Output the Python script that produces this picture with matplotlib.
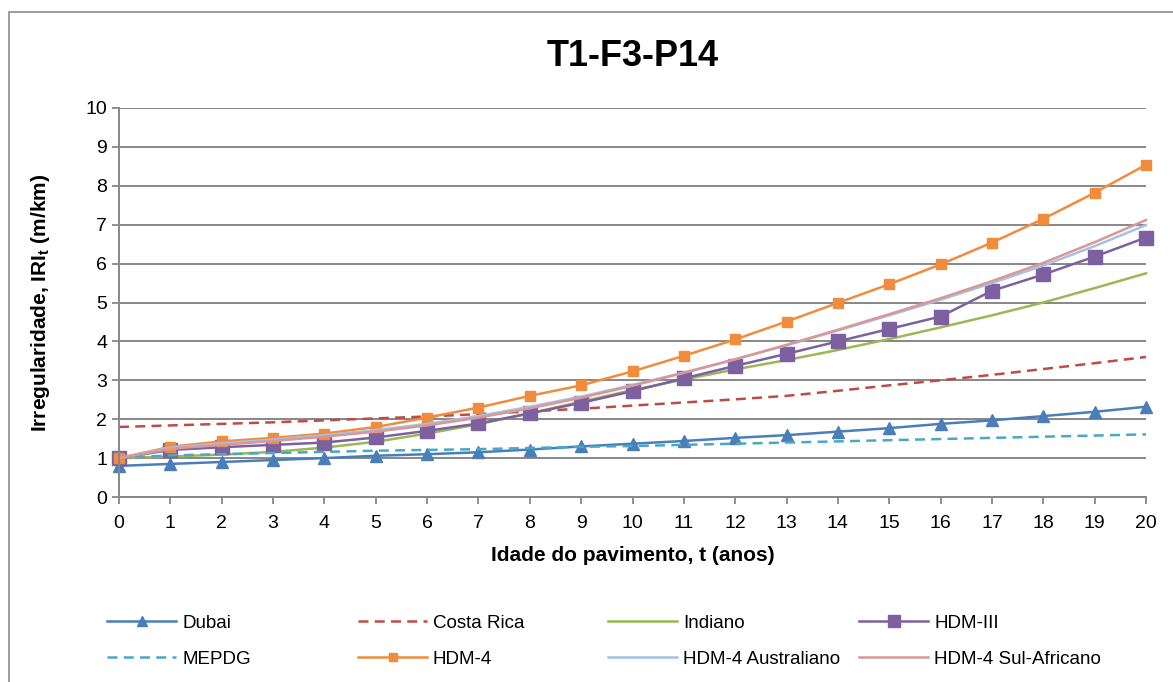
import matplotlib
matplotlib.use("Agg")
import matplotlib.pyplot as plt
from matplotlib.patches import Rectangle

plt.rcParams["font.family"] = ["Liberation Sans", "DejaVu Sans"]
plt.rcParams["mathtext.fontset"] = "custom"
plt.rcParams["mathtext.rm"] = "Liberation Sans"
plt.rcParams["mathtext.bf"] = "Liberation Sans:bold"

anos = list(range(21))

dubai = [0.80, 0.85, 0.90, 0.95, 1.00, 1.06, 1.10, 1.15, 1.22, 1.30, 1.37,
         1.44, 1.52, 1.59, 1.68, 1.77, 1.88, 1.97, 2.08, 2.19, 2.32]
costa_rica = [1.80, 1.84, 1.88, 1.92, 1.97, 2.02, 2.07, 2.13, 2.20, 2.27, 2.35,
              2.43, 2.51, 2.60, 2.73, 2.87, 3.00, 3.14, 3.29, 3.44, 3.60]
indiano = [1.00, 1.04, 1.09, 1.16, 1.27, 1.42, 1.63, 1.87, 2.15, 2.45, 2.75,
           3.02, 3.28, 3.52, 3.78, 4.06, 4.36, 4.67, 5.00, 5.37, 5.75]
hdm3 = [1.00, 1.21, 1.28, 1.34, 1.40, 1.53, 1.70, 1.89, 2.15, 2.42, 2.72,
        3.05, 3.37, 3.68, 4.00, 4.32, 4.64, 5.30, 5.72, 6.18, 6.67]
mepdg = [1.00, 1.07, 1.10, 1.13, 1.16, 1.19, 1.21, 1.23, 1.26, 1.29, 1.31,
         1.34, 1.37, 1.40, 1.43, 1.46, 1.49, 1.52, 1.55, 1.58, 1.61]
hdm4 = [1.00, 1.29, 1.43, 1.52, 1.63, 1.80, 2.04, 2.30, 2.60, 2.87, 3.23,
        3.63, 4.05, 4.51, 4.99, 5.47, 5.98, 6.54, 7.15, 7.82, 8.54]
hdm4_aus = [1.00, 1.27, 1.38, 1.48, 1.59, 1.72, 1.88, 2.08, 2.32, 2.58, 2.88,
            3.20, 3.54, 3.90, 4.28, 4.67, 5.07, 5.50, 5.95, 6.45, 6.99]
hdm4_sa = [1.00, 1.24, 1.34, 1.44, 1.55, 1.68, 1.84, 2.04, 2.28, 2.55, 2.86,
           3.19, 3.54, 3.91, 4.30, 4.70, 5.11, 5.55, 6.02, 6.55, 7.12]

tracejado = (0, (4, 2.5))
series = [
    ("Dubai", dubai, dict(color="#4A7EBB", marker="^", markersize=8)),
    ("Costa Rica", costa_rica, dict(color="#BE4B48", linestyle=tracejado)),
    ("Indiano", indiano, dict(color="#98B954")),
    ("HDM-III", hdm3, dict(color="#7D60A0", marker="s", markersize=10)),
    ("MEPDG", mepdg, dict(color="#46AAC5", linestyle=tracejado)),
    ("HDM-4", hdm4, dict(color="#F08C3C", marker="s", markersize=7)),
    ("HDM-4 Australiano", hdm4_aus, dict(color="#A7C0E6")),
    ("HDM-4 Sul-Africano", hdm4_sa, dict(color="#D99795")),
]

fig = plt.figure(figsize=(11.73, 6.82), dpi=100)
fig.patches.append(Rectangle((9 / 1173, -0.1), 1.2, 1 - 12 / 682 + 0.1,
                             transform=fig.transFigure, fill=False,
                             edgecolor="#8C8C8C", linewidth=1.2))

ax = fig.add_axes([119 / 1173, 1 - 497 / 682, (1146 - 119) / 1173, (497 - 108) / 682])

handles = []
for nome, vals, st in series:
    h, = ax.plot(anos, vals, linewidth=1.8, label=nome, clip_on=False, **st)
    handles.append(h)

ax.set_xlim(0, 20)
ax.set_ylim(0, 10)
ax.set_xticks(anos)
ax.set_yticks(range(11))
ax.yaxis.grid(True, color="#878787", linewidth=1.4)
ax.set_axisbelow(True)
for s in ["top", "right"]:
    ax.spines[s].set_visible(False)
for s in ["left", "bottom"]:
    ax.spines[s].set_color("#878787")
    ax.spines[s].set_linewidth(1.4)
ax.tick_params(axis="both", direction="out", color="#878787", width=1.3,
               labelsize=14, length=5)
ax.tick_params(axis="x", pad=8)

ax.set_title("T1-F3-P14", fontsize=26, fontweight="bold", pad=30)
ax.set_xlabel("Idade do pavimento, t (anos)", fontsize=15, fontweight="bold",
              labelpad=10)
ax.set_ylabel(r"Irregularidade, IRI$_\mathbf{t}$ (m/km)", fontsize=15,
              fontweight="bold", labelpad=24)

# legenda em 4 colunas de largura fixa, como no Excel
col_x = [107, 358, 608, 859]
for i, x in enumerate(col_x):
    leg = fig.legend([handles[i], handles[i + 4]],
                     [series[i][0], series[i + 4][0]],
                     loc="center left", bbox_to_anchor=(x / 1173, 1 - 641 / 682),
                     frameon=False, fontsize=13.5, handlelength=3.7,
                     handletextpad=0.3, labelspacing=1.0, borderpad=0,
                     borderaxespad=0, numpoints=1, markerscale=0.85)

fig.savefig("out.png", dpi=100)
